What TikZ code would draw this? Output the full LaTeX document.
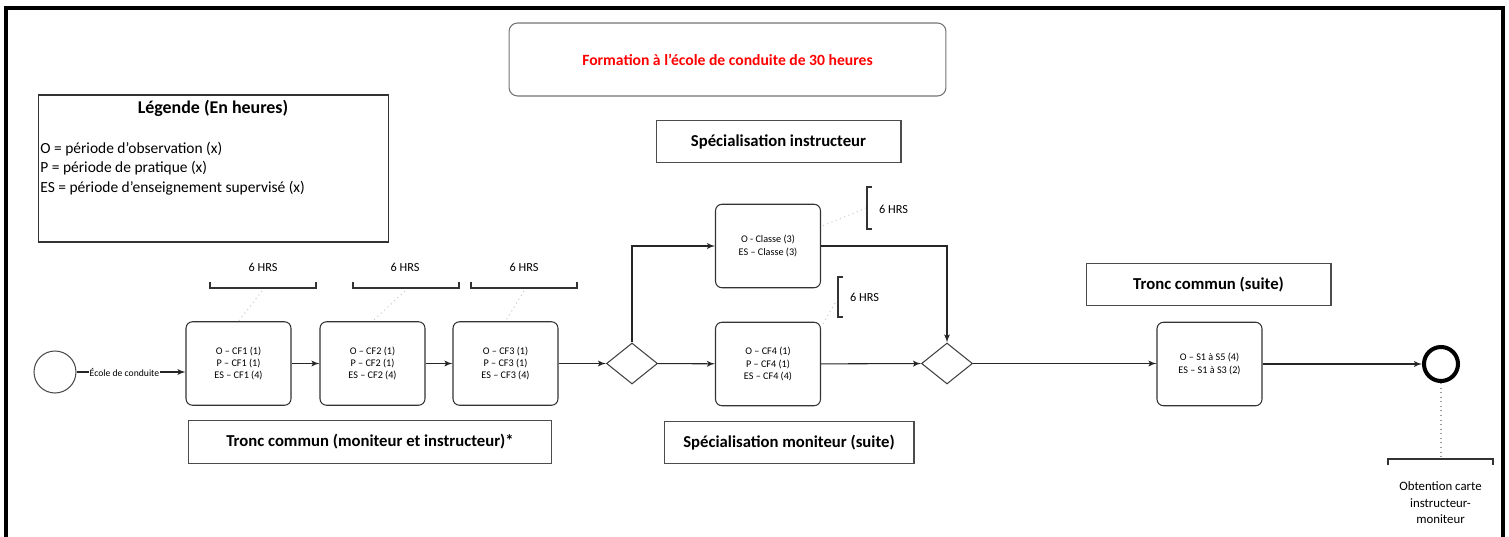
\documentclass[tikz,border=0pt]{standalone}
\usepackage{fontspec}
\setmainfont{Carlito}
\usetikzlibrary{shapes.geometric, arrows, positioning, calc}

\begin{document}
\begin{tikzpicture} [
    x=0.02cm, y=-0.02cm,
    task/.style={rectangle, draw=black!80, line width=0.6pt, rounded corners=0.13cm, minimum width=2.1cm, minimum height=1.67cm, align=center, font=\fontsize{5.8}{7}\selectfont},
    lane/.style={rectangle, draw=black!70, line width=0.6pt, minimum height=0.85cm, font=\bfseries\fontsize{9.5}{11}\selectfont},
    gateway/.style={diamond, draw=black!75, line width=0.6pt, minimum width=1.02cm, minimum height=0.82cm, inner sep=0pt},
    line/.style={draw, -latex', line width=0.6pt, black!85},
    bracket/.style={draw, line width=0.6pt, black!80},
    assoc/.style={draw, dotted, gray!40, line width=0.6pt},
    hrs/.style={font=\fontsize{7}{8}\selectfont}
]
    \useasboundingbox (0,0) rectangle (1509,537);
    % Frame
    \draw[line width=1.8pt] (6,545) -- (6,8) -- (1503,8) -- (1503,545);

    % Nodes
    \node[rectangle, draw=black!55, line width=0.6pt, rounded corners=0.17cm, minimum width=8.74cm, minimum height=1.46cm, text=red, font=\bfseries\fontsize{8.9}{10}\selectfont] (title) at (727.5,59.5) {Formation à l’école de conduite de 30 heures};

    \node[rectangle, draw=black!80, line width=0.6pt, minimum width=7.02cm, minimum height=2.94cm] (legend) at (213.5,168.5) {};
    \node[font=\bfseries\fontsize{10.2}{12}\selectfont] (legend_title) at (213,108) {Légende (En heures)};
    \node[anchor=west, inner sep=0pt, align=left, font=\fontsize{8.8}{11}\selectfont] (legend_text) at (40,168.5) {O = période d’observation (x)\\P = période de pratique (x)\\ES = période d’enseignement supervisé (x)};

    \node[lane, minimum width=4.9cm] (spec_instr) at (778.5,141.5) {Spécialisation instructeur};

    \node[circle, draw=black!70, line width=0.6pt, minimum size=0.84cm, inner sep=0pt] (start) at (55,372) {};
    \node[task] (cf1) at (238.5,363.5) {O – CF1 (1)\\P – CF1 (1)\\ES – CF1 (4)};
    \node[task] (cf2) at (372.5,363.5) {O – CF2 (1)\\P – CF2 (1)\\ES – CF2 (4)};
    \node[task] (cf3) at (505.5,363.5) {O – CF3 (1)\\P – CF3 (1)\\ES – CF3 (4)};
    \node[lane, minimum width=7.28cm] (tronc) at (370,442) {Tronc commun (moniteur et instructeur)*};

    \node[gateway] (gw_split) at (632,363.5) {};
    \node[task] (classe) at (768,246) {O - Classe (3)\\ES – Classe (3)};
    \node[task] (cf4) at (768,364) {O – CF4 (1)\\P – CF4 (1)\\ES – CF4 (4)};
    \node[lane, minimum width=5cm] (spec_mon) at (789,442.5) {Spécialisation moniteur (suite)};
    \node[gateway] (gw_join) at (947,363.5) {};

    \node[lane, minimum width=4.9cm] (tronc_suite) at (1208.5,284.5) {Tronc commun (suite)};
    \node[task] (s_block) at (1209.5,364) {O – S1 à S5 (4)\\ES – S1 à S3 (2)};
    \node[circle, draw, line width=2.3pt, minimum size=0.68cm, inner sep=0pt] (end) at (1441,364) {};
    \node[align=center, font=\fontsize{7.3}{9.4}\selectfont] (obtention) at (1440.5,503) {Obtention carte\\instructeur-\\moniteur};

    % 6 HRS annotations
    \node[hrs] (hrs_cf1) at (263,267) {6 HRS};
    \node[hrs] (hrs_cf2) at (405,267) {6 HRS};
    \node[hrs] (hrs_cf3) at (524,267) {6 HRS};
    \node[hrs, anchor=west] (hrs_classe) at (873,209) {6 HRS};
    \node[hrs, anchor=west] (hrs_cf4) at (844,297) {6 HRS};

    \path[bracket] (210,282) -- (210,288) -- (316,288) -- (316,282);
    \path[bracket] (353,282) -- (353,288) -- (459,288) -- (459,282);
    \path[bracket] (471,282) -- (471,288) -- (577,288) -- (577,282);
    \path[bracket] (872,187) -- (867,187) -- (867,229) -- (872,229);
    \path[bracket] (843,277) -- (838,277) -- (838,317) -- (843,317);
    \path[bracket] (1388,465) -- (1388,459) -- (1493,459) -- (1493,465);
    \coordinate (obt_top) at (1441,458);

    % Associations
    \path[assoc] (262,291) -- (cf1.north);
    \path[assoc] (405,291) -- (cf2.north);
    \path[assoc] (524,291) -- (cf3.north);
    \path[assoc] (classe.north east) ++(2,22) -- (866,208);
    \path[assoc] (cf4.north east) ++(2,2) -- (837,300);
    \path[draw, dotted, black!40, line width=0.6pt] (end) -- (obt_top);

    % Arrows
    \path [line] (start) -- (start -| cf1.west) node[pos=0.44, fill=white, inner sep=0.5pt, font=\fontsize{5.5}{6.5}\selectfont, text=black] {École de conduite};
    \path [line] (cf1) -- (cf2);
    \path [line] (cf2) -- (cf3);
    \path [line] (cf3) -- (gw_split);
    \path [line] (gw_split.north) |- (classe.west);
    \path [line] (gw_split) -- (cf4);
    \path [line] (classe.east) -| (gw_join.north);
    \path [line] (cf4) -- (gw_join);
    \path [line] (gw_join.east) -- (s_block.west |- gw_join.east);
    \path [line] (s_block) -- (end);

\end{tikzpicture}
\end{document}
